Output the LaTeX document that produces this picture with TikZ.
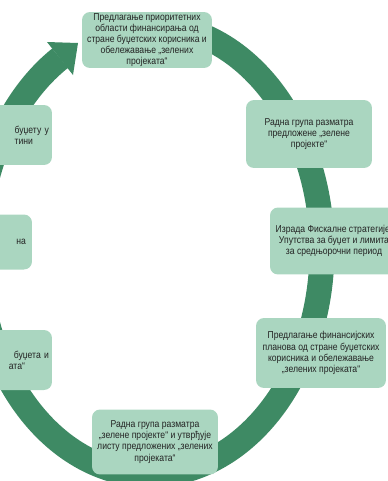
\documentclass[tikz,border=0pt]{standalone}
\usepackage{fontspec}
\setmainfont{Liberation Sans}[FakeStretch=0.86]
\usepackage{xcolor}

\definecolor{ringgreen}{RGB}{62,138,100}
\definecolor{boxgreen}{RGB}{170,214,192}
\definecolor{boxtext}{RGB}{35,35,35}

\tikzset{
  stepbox/.style={rounded corners=0.16cm, fill=boxgreen, text=boxtext, align=center,
    inner sep=0pt, font=\fontsize{5.7}{6.3}\selectfont},
  sidebox/.style={stepbox, align=right, text width=2.48cm, minimum width=2.6cm},
  ring/.style={draw=ringgreen, line width=0.5cm}
}

\begin{document}
\begin{tikzpicture}[x=0.02cm, y=-0.02cm]

\useasboundingbox (0,0) rectangle (388,481);
\clip (0,0) rectangle (388,481);

% the cycle
\draw[ring] plot[domain=100:-238.5, samples=240] ({150+172*cos(\x)}, {250-225*sin(\x)});
\coordinate (head tip) at (78,43);
\coordinate (head top) at (47,42);
\coordinate (head bottom) at (73,75);
\fill[ringgreen] (head top) -- (head tip) -- (head bottom) -- cycle;

% the steps
\begin{scope}[every node/.style={stepbox}]
\node[minimum width=2.6cm, minimum height=1.12cm] (step 1) at (147,40)
  {Предлагање приоритетних\\области финансирања од\\стране буџетских корисника и\\обележавање „зелених\\пројеката“};
\node[minimum width=2.52cm, minimum height=1.36cm] (step 2) at (309,134)
  {Радна група разматра\\предложене „зелене\\пројекте“};
\node[minimum width=2.56cm, minimum height=1.34cm] (step 3) at (334,241)
  {Израда Фискалне стратегије,\\Упутства за буџет и лимита\\за средњорочни период};
\node[minimum width=2.6cm, minimum height=1.4cm] (step 4) at (321,353)
  {Предлагање финансијских\\планова од стране буџетских\\корисника и обележавање\\„зелених пројеката“};
\node[minimum width=2.52cm, minimum height=1.3cm] (step 5) at (155,442)
  {Радна група разматра\\„зелене пројекте“ и утврђује\\листу предложених „зелених\\пројеката“};
\end{scope}

\node[sidebox, minimum height=1.2cm] (step 6) at (-13,360)
  {буџета и\hspace*{0.08cm}\\ата“\hspace*{0.48cm}};
\node[sidebox, minimum height=1.1cm] (step 7) at (-33,242)
  {на\hspace*{0.06cm}};
\node[sidebox, minimum height=1.2cm] (step 8) at (-13,135)
  {буџету у\hspace*{0.08cm}\\тини\hspace*{0.32cm}};

\end{tikzpicture}
\end{document}
